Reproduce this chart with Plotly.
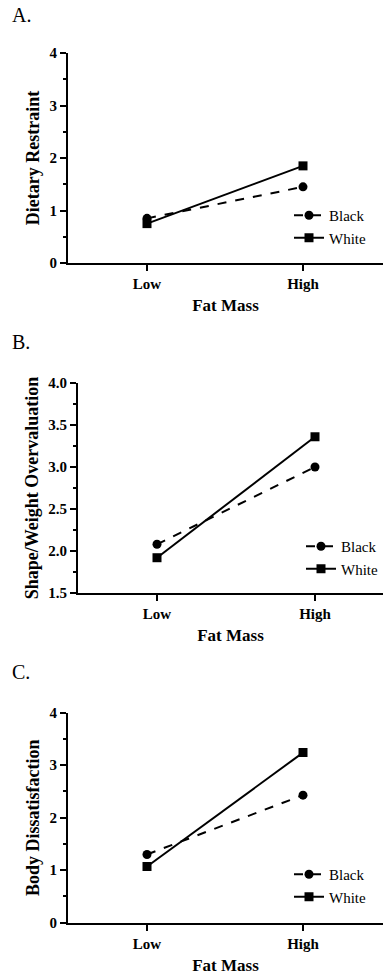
import plotly.graph_objects as go

W, H = 384, 977

categories = ["Low", "High"]
series_names = ["Black", "White"]

restraint_black = [0.85, 1.45]
restraint_white = [0.75, 1.85]

overval_black = [2.08, 3.00]
overval_white = [1.92, 3.36]

dissat_black = [1.30, 2.43]
dissat_white = [1.07, 3.24]

panel_labels = ["A.", "B.", "C."]
y_titles = ["Dietary Restraint", "Shape/Weight Overvaluation", "Body Dissatisfaction"]
x_title = "Fat Mass"

SERIF = "Liberation Serif, Times New Roman, serif"

def px_x(p):
    return p / W

def px_y(p):
    return 1 - p / H

fig = go.Figure()

panels = [
    dict(black=restraint_black, white=restraint_white, yrange=[0, 4], dtick=1, minor=0.5, fmt="d",
         ax_left=68, y_bot=263, y_top=53, low_px=147, high_px=303, leg_x=289, leg_top=199),
    dict(black=overval_black, white=overval_white, yrange=[1.5, 4.0], dtick=0.5, minor=0.25, fmt=".1f",
         ax_left=78, y_bot=593, y_top=383, low_px=157, high_px=315, leg_x=301, leg_top=530),
    dict(black=dissat_black, white=dissat_white, yrange=[0, 4], dtick=1, minor=0.5, fmt="d",
         ax_left=68, y_bot=922.7, y_top=712.7, low_px=147, high_px=303, leg_x=289, leg_top=858),
]

label_y = [15, 342, 672]

for i, p in enumerate(panels):
    n = "" if i == 0 else str(i + 1)
    xa, ya = "x" + n, "y" + n
    leg = "legend" + n
    per = p["high_px"] - p["low_px"]
    xr = [-(p["low_px"] - p["ax_left"]) / per, 1 + (383 - p["high_px"]) / per]
    fig.add_trace(go.Scatter(
        x=[0, 1], y=p["black"], name=series_names[0], mode="lines+markers",
        line=dict(color="black", width=2, dash="dash"),
        marker=dict(symbol="circle", size=9, color="black"),
        xaxis=xa, yaxis=ya, legend=leg, showlegend=True))
    fig.add_trace(go.Scatter(
        x=[0, 1], y=p["white"], name=series_names[1], mode="lines+markers",
        line=dict(color="black", width=2),
        marker=dict(symbol="square", size=9, color="black"),
        xaxis=xa, yaxis=ya, legend=leg, showlegend=True))

    xkey = "xaxis" + n
    ykey = "yaxis" + n
    fig.layout[xkey] = dict(
        domain=[px_x(p["ax_left"]), px_x(383)], anchor=ya, range=xr,
        tickmode="array", tickvals=[0, 1], ticktext=categories,
        showline=True, linecolor="black", linewidth=2, ticks="outside",
        ticklen=6, tickwidth=2, tickcolor="black", showgrid=False, zeroline=False,
        tickfont=dict(family=SERIF, size=15, color="black", weight=700),
        title=dict(text=x_title, font=dict(family=SERIF, size=17, color="black", weight=700), standoff=8),
        automargin=False, fixedrange=True)
    fig.layout[ykey] = dict(
        domain=[px_y(p["y_bot"]), px_y(p["y_top"])], anchor=xa, range=p["yrange"],
        dtick=p["dtick"], tick0=p["yrange"][0], tickformat=p["fmt"],
        showline=True, linecolor="black", linewidth=2, ticks="outside",
        ticklen=6, tickwidth=2, tickcolor="black", showgrid=False, zeroline=False,
        minor=dict(dtick=p["minor"], ticks="outside", ticklen=3, tickwidth=2, tickcolor="black", showgrid=False),
        tickfont=dict(family=SERIF, size=15, color="black", weight=700),
        title=dict(text=y_titles[i], font=dict(family=SERIF, size=18, color="black", weight=700), standoff=5),
        automargin=False, fixedrange=True)
    fig.layout[leg] = dict(
        x=px_x(p["leg_x"]), y=px_y(p["leg_top"]), xanchor="left", yanchor="top",
        bgcolor="rgba(0,0,0,0)", borderwidth=0,
        font=dict(family=SERIF, size=15, color="black"), tracegroupgap=0)
    fig.add_annotation(text=panel_labels[i], xref="paper", yref="paper",
                       x=px_x(10), y=px_y(label_y[i]), xanchor="left", yanchor="middle",
                       showarrow=False, font=dict(family=SERIF, size=20, color="black"))

fig.update_layout(
    width=W, height=H, margin=dict(l=0, r=0, t=0, b=0),
    paper_bgcolor="white", plot_bgcolor="white",
    font=dict(family=SERIF, color="black"),
)

fig.write_html("out.html", config={"displayModeBar": False},
               post_script="document.body.style.margin='0';document.body.style.overflow='hidden';")
